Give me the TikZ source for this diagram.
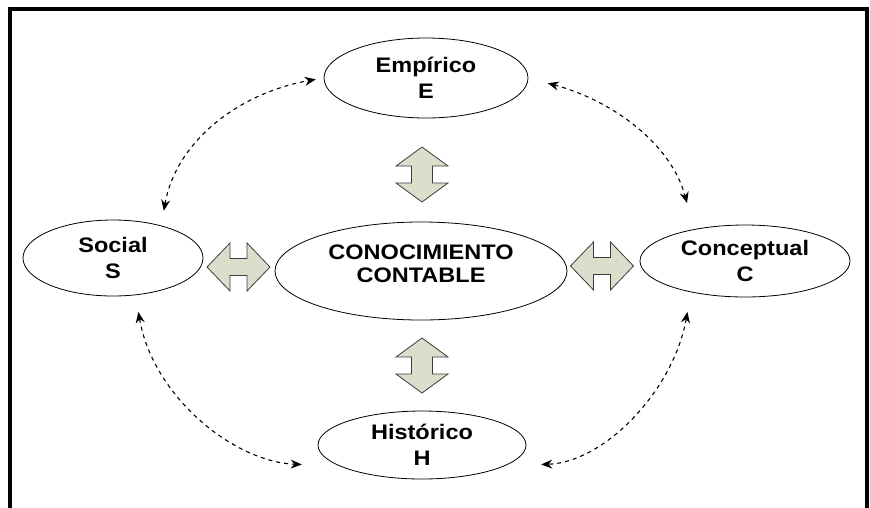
\documentclass[tikz,border=0pt]{standalone}
\usepackage{fontspec}
\setmainfont{Liberation Sans}[FakeStretch=1.12]
\usetikzlibrary{shapes.geometric,arrows.meta}
\definecolor{arrfill}{RGB}{221,221,204}
\definecolor{arrline}{RGB}{60,60,60}
\begin{document}
\begin{tikzpicture}[x=1pt,y=1pt,
  ell/.style={ellipse, draw=black, line width=0.8pt, inner sep=0pt, align=center,
              font=\fontsize{21}{26}\selectfont\bfseries},
  dconn/.style={line width=1.1pt, dash pattern=on 4pt off 4pt,
                {Stealth[length=11pt,width=9pt]}-{Stealth[length=11pt,width=9pt]}},
  dbl/.style={fill=arrfill, draw=arrline, line width=0.8pt, line join=miter},
  hdbl/.pic={\draw[dbl] (-31.5,0) -- (-8.5,24) -- (-8.5,8.5) -- (8.5,8.5) -- (8.5,24)
      -- (31.5,0) -- (8.5,-24) -- (8.5,-8.5) -- (-8.5,-8.5) -- (-8.5,-24) -- cycle;},
  vdbl/.pic={\draw[dbl] (0,27.5) -- (26,8.5) -- (10.5,8.5) -- (10.5,-8.5) -- (26,-8.5)
      -- (0,-27.5) -- (-26,-8.5) -- (-10.5,-8.5) -- (-10.5,8.5) -- (-26,8.5) -- cycle;}
]
\useasboundingbox (0,0) rectangle (870,-507);
\draw[line width=4pt, line join=miter] (10,-515) -- (10,-9) -- (867,-9) -- (867,-515);

\node[ell, minimum width=204pt, minimum height=80pt] (emp) at (426,-78) {Empírico\\E};
\node[ell, minimum width=180pt, minimum height=76pt] (soc) at (113,-258) {Social\\S};
\node[ell, minimum width=210pt, minimum height=72pt] (con) at (745,-261) {Conceptual\\C};
\node[ell, minimum width=208pt, minimum height=68pt] (his) at (422,-445) {Histórico\\H};
\node[ell, minimum width=292pt, minimum height=98pt,
      font=\fontsize{21}{23}\selectfont\bfseries] (cc) at (421,-271)
      {CONOCIMIENTO\\CONTABLE\rule[-14pt]{0pt}{0pt}};

\pic at (238.5,-267) {hdbl};
\pic at (602,-266) {hdbl};
\pic at (422,-174.5) {vdbl};
\pic at (422,-365.5) {vdbl};

\draw[dconn, shorten <=15pt, shorten >=8pt] (soc.34) to[out=80, in=190] (emp.west);
\draw[dconn, shorten <=20pt, shorten >=27pt] (emp.east) to[out=-15, in=105] (con.148);
\draw[dconn, shorten <=17pt, shorten >=37pt] (soc.-59) to[out=-80, in=178] (his.194);
\draw[dconn, shorten <=20pt, shorten >=36pt] (con.210) to[out=-100, in=2] (his.-14);
\end{tikzpicture}
\end{document}
